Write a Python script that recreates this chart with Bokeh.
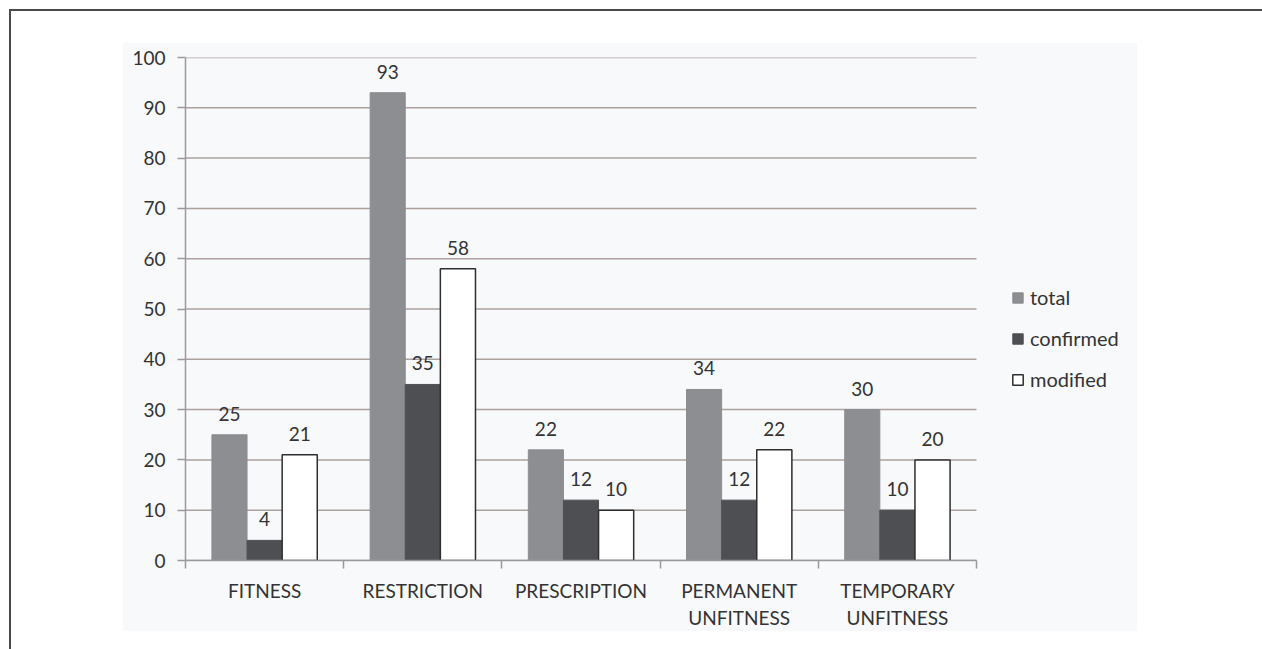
from bokeh.plotting import figure
from bokeh.models import ColumnDataSource, FixedTicker, LabelSet, Legend, LegendItem
from bokeh.core.properties import value
from bokeh.transform import dodge
from bokeh.embed import file_html
from bokeh.resources import INLINE

categories = ["FITNESS", "RESTRICTION", "PRESCRIPTION", "PERMANENT\nUNFITNESS", "TEMPORARY\nUNFITNESS"]
total = [25, 93, 22, 34, 30]
confirmed = [4, 35, 12, 12, 10]
modified = [21, 58, 10, 22, 20]
y_ticks = list(range(0, 101, 10))

n = len(categories)
xs = [i + 0.5 for i in range(n)]
src = ColumnDataSource(dict(x=xs, total=total, confirmed=confirmed, modified=modified,
                            tl=[str(v) for v in total], cl=[str(v) for v in confirmed],
                            ml=[str(v) for v in modified]))

FONT = "Lato"
TXT = "#333333"

# plotting frame spans the full right side (legend sits inside it); the
# category area covers 791 px of the 1077 px frame
x_end = n * 1077 / 791

p = figure(width=1262, height=649, output_backend="svg", toolbar_location=None,
           x_range=(0, x_end), y_range=(0, 100),
           min_border_left=185, min_border_top=57, min_border_right=0, min_border_bottom=89)
p.border_fill_color = None
p.background_fill_color = None
p.outline_line_color = None
p.styles = {
    "background": (
        "linear-gradient(#4a4a4a,#4a4a4a) 9px 9px / 1253px 2px no-repeat,"
        "linear-gradient(#4a4a4a,#4a4a4a) 9px 9px / 2px 640px no-repeat,"
        "linear-gradient(#f8f9fb,#f8f9fb) 123px 43px / 1014px 588px no-repeat,"
        "#ffffff"
    )
}

# horizontal grid lines limited to the category area
p.ygrid.grid_line_color = None
p.xgrid.grid_line_color = None
p.segment(x0=[0] * len(y_ticks), x1=[n] * len(y_ticks), y0=y_ticks, y1=y_ticks,
          line_color="#ada19f", line_width=1.5, level="underlay")

w = 0.222
r_total = p.vbar(x=dodge("x", -w, range=p.x_range), top="total", width=w, source=src,
                 fill_color="#8c8e91", line_color="#8c8e91")
r_conf = p.vbar(x=dodge("x", 0, range=p.x_range), top="confirmed", width=w, source=src,
                fill_color="#4e4f53", line_color="#4e4f53")
r_mod = p.vbar(x=dodge("x", w, range=p.x_range), top="modified", width=w, source=src,
               fill_color="#ffffff", line_color="#2e2e2e", line_width=1.5)

for off, col, lab in [(-w, "total", "tl"), (0, "confirmed", "cl"), (w, "modified", "ml")]:
    ls = LabelSet(x=dodge("x", off, range=p.x_range), y=col, text=lab, source=src,
                  y_offset=14, text_align="center", text_baseline="bottom",
                  text_font=value(FONT), text_font_size=value("19px"), text_color=value(TXT))
    p.add_layout(ls)

# axes
p.yaxis.ticker = FixedTicker(ticks=y_ticks)
p.yaxis.axis_line_color = "#9a9a9a"
p.yaxis.axis_line_width = 1.5
p.yaxis.major_tick_line_color = "#9a9a9a"
p.yaxis.major_tick_line_width = 1.5
p.yaxis.major_tick_out = 8
p.yaxis.major_tick_in = 0
p.yaxis.minor_tick_line_color = None
p.yaxis.major_label_standoff = 12
p.yaxis.major_label_text_font = FONT
p.yaxis.major_label_text_font_size = "19px"
p.yaxis.major_label_text_color = TXT

p.xaxis.bounds = (0, n)
p.xaxis.ticker = FixedTicker(ticks=xs, minor_ticks=list(range(n + 1)))
p.xaxis.major_label_overrides = {x: c for x, c in zip(xs, categories)}
p.xaxis.axis_line_color = "#9a9a9a"
p.xaxis.axis_line_width = 1.5
p.xaxis.major_tick_line_color = None
p.xaxis.major_tick_out = 0
p.xaxis.minor_tick_line_color = "#9a9a9a"
p.xaxis.minor_tick_line_width = 1.5
p.xaxis.minor_tick_out = 8
p.xaxis.minor_tick_in = 0
p.xaxis.major_label_standoff = 10
p.xaxis.major_label_text_font = FONT
p.xaxis.major_label_text_font_size = "19px"
p.xaxis.major_label_text_color = TXT

legend = Legend(items=[LegendItem(label="total", renderers=[r_total]),
                       LegendItem(label="confirmed", renderers=[r_conf]),
                       LegendItem(label="modified", renderers=[r_mod])],
                location=(826, 169), orientation="vertical",
                glyph_width=13, glyph_height=13, label_height=20, spacing=17,
                label_standoff=6, padding=0, margin=0,
                label_text_font=FONT, label_text_font_size="20px", label_text_color=TXT,
                border_line_color=None, background_fill_color=None)
p.add_layout(legend, "center")

open("out.html", "w").write(file_html(p, INLINE))
